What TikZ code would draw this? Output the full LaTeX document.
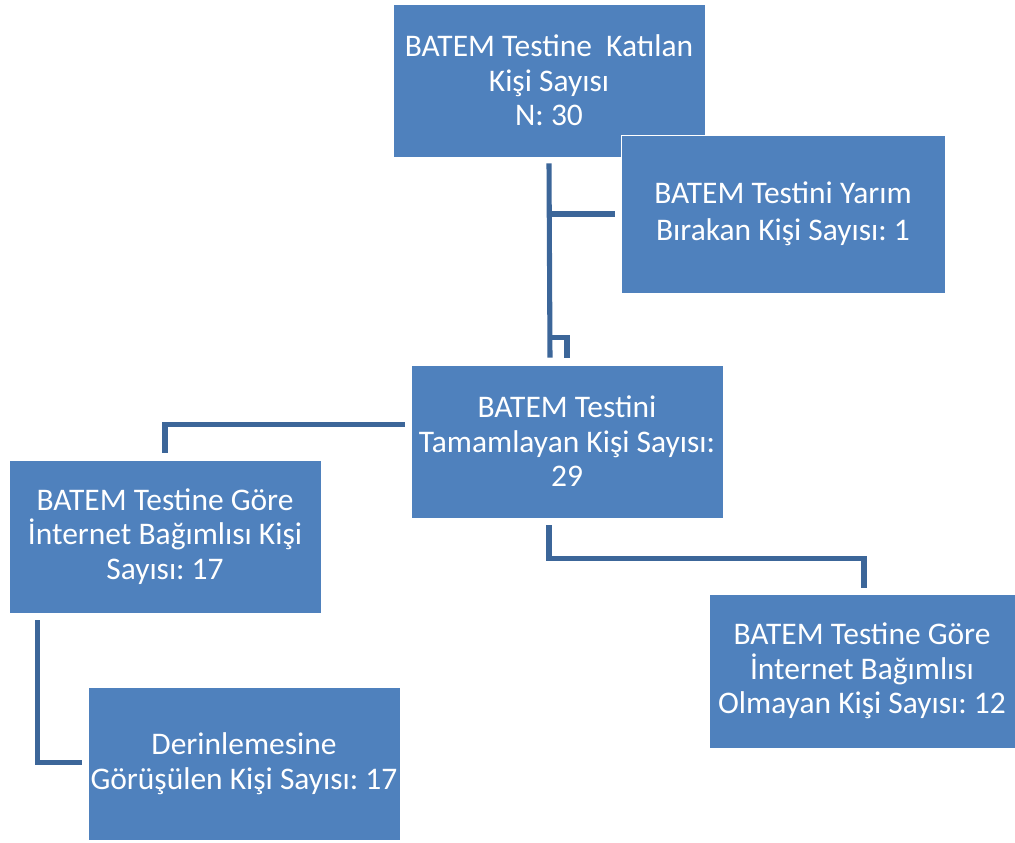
\documentclass[tikz,border=0pt]{standalone}
\usepackage{fontspec}
\setmainfont{Carlito}
\usetikzlibrary{calc}
\definecolor{boxblue}{HTML}{4F81BD}
\definecolor{linkblue}{HTML}{3C6699}
\begin{document}
\begin{tikzpicture}[x=0.75pt,y=-0.75pt,
  box/.style={rectangle, fill=boxblue, draw=white, line width=0.6pt, text=white, align=center,
    inner sep=0pt, font=\fontsize{23.6}{25.9}\selectfont\frenchspacing},
  link/.style={draw=linkblue, line width=3.8pt, line join=miter}]
\useasboundingbox (0,0) rectangle (1015,843);
\node[box, minimum width=234pt, minimum height=114.75pt] (top) at (549,80.5)
  {BATEM Testine\ \ Katılan\\Kişi Sayısı\\N: 30};
\node[box, minimum width=243pt, minimum height=118.5pt] (half) at (783,214)
  {BATEM Testini Yarım\\[2pt]Bırakan Kişi Sayısı: 1};
\node[box, minimum width=234pt, minimum height=114.75pt] (done) at (567,441.5)
  {BATEM Testini\\Tamamlayan Kişi Sayısı:\\29};
\node[box, minimum width=234pt, minimum height=114.75pt] (addict) at (165,536.5)
  {BATEM Testine Göre\\İnternet Bağımlısı Kişi\\Sayısı: 17};
\node[box, minimum width=229.5pt, minimum height=115.5pt] (nonaddict) at (862,671)
  {BATEM Testine Göre\\İnternet Bağımlısı\\Olmayan Kişi Sayısı: 12};
\node[box, minimum width=234pt, minimum height=114.75pt] (deep) at (244,763.5)
  {Derinlemesine\\Görüşülen Kişi Sayısı: 17};
% connectors
\coordinate (t1) at ($(top.south)+(0,6)$);
\coordinate (t2) at ($(done.north)+(-17,-7)$);
\draw[link] (t1) -- (t2);
\draw[link] (t1 |- half.west) -- ($(half.west)+(-6,0)$);
\draw[link] ($(t1)+(0,174)$) -| ($(done.north)+(0,-7)$);
\draw[link] ($(done.west)+(-6,-17)$) -| ($(addict.north)+(0,-7)$);
\coordinate (b1) at ($(done.south)+(-18,7)$);
\draw[link] (b1) -- ($(b1)+(0,33)$) -| ($(nonaddict.north)+(2,-6)$);
\draw[link] ($(addict.south west)+(29,7)$) |- ($(deep.west)+(-6,-1)$);
\end{tikzpicture}
\end{document}
